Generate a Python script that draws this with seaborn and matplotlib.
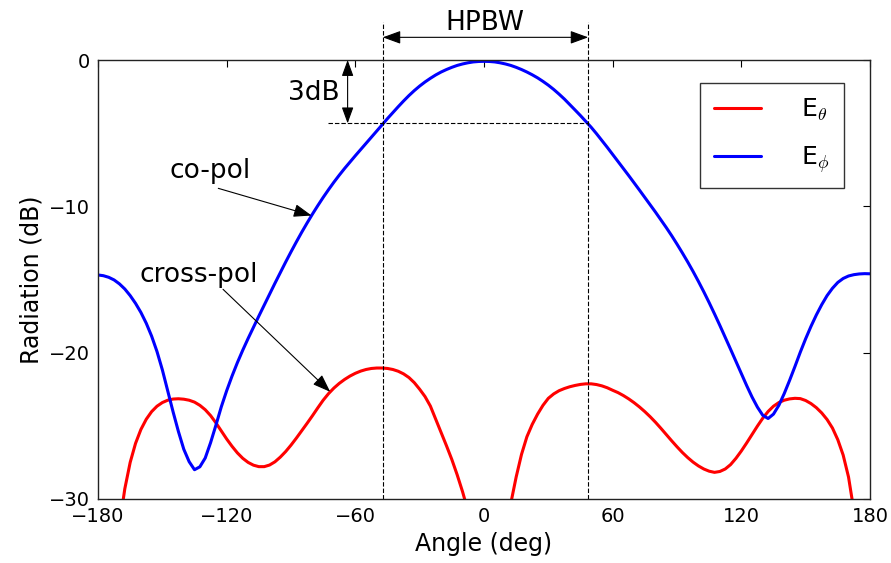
import numpy as np
import pandas as pd
import matplotlib
matplotlib.use("Agg")
import matplotlib.pyplot as plt
import seaborn as sns

# Radiation pattern samples every 2.5 degrees (level in dB)
angle_deg = [
    -180.0, -177.5, -175.0, -172.5, -170.0, -167.5, -165.0, -162.5, -160.0, -157.5,
    -155.0, -152.5, -150.0, -147.5, -145.0, -142.5, -140.0, -137.5, -135.0, -132.5,
    -130.0, -127.5, -125.0, -122.5, -120.0, -117.5, -115.0, -112.5, -110.0, -107.5,
    -105.0, -102.5, -100.0, -97.5, -95.0, -92.5, -90.0, -87.5, -85.0, -82.5,
    -80.0, -77.5, -75.0, -72.5, -70.0, -67.5, -65.0, -62.5, -60.0, -57.5,
    -55.0, -52.5, -50.0, -47.5, -45.0, -42.5, -40.0, -37.5, -35.0, -32.5,
    -30.0, -27.5, -25.0, -22.5, -20.0, -17.5, -15.0, -12.5, -10.0, -7.5,
    -5.0, -2.5, 0.0, 2.5, 5.0, 7.5, 10.0, 12.5, 15.0, 17.5,
    20.0, 22.5, 25.0, 27.5, 30.0, 32.5, 35.0, 37.5, 40.0, 42.5,
    45.0, 47.5, 50.0, 52.5, 55.0, 57.5, 60.0, 62.5, 65.0, 67.5,
    70.0, 72.5, 75.0, 77.5, 80.0, 82.5, 85.0, 87.5, 90.0, 92.5,
    95.0, 97.5, 100.0, 102.5, 105.0, 107.5, 110.0, 112.5, 115.0, 117.5,
    120.0, 122.5, 125.0, 127.5, 130.0, 132.5, 135.0, 137.5, 140.0, 142.5,
    145.0, 147.5, 150.0, 152.5, 155.0, 157.5, 160.0, 162.5, 165.0, 167.5,
    170.0, 172.5, 175.0, 177.5, 180.0,
]

e_phi_db = [
    -14.69, -14.74, -14.85, -15.03, -15.30, -15.65, -16.10, -16.63, -17.25, -17.99,
    -18.87, -19.92, -21.17, -22.59, -24.04, -25.39, -26.60, -27.45, -28.00, -27.80,
    -27.20, -26.15, -24.95, -23.70, -22.60, -21.60, -20.68, -19.83, -19.03, -18.26,
    -17.50, -16.75, -16.00, -15.26, -14.53, -13.81, -13.11, -12.43, -11.77, -11.14,
    -10.53, -9.95, -9.39, -8.86, -8.35, -7.87, -7.41, -6.97, -6.54, -6.12,
    -5.70, -5.28, -4.85, -4.42, -4.00, -3.59, -3.19, -2.80, -2.43, -2.09,
    -1.78, -1.50, -1.25, -1.02, -0.82, -0.65, -0.50, -0.37, -0.27, -0.19,
    -0.13, -0.10, -0.09, -0.10, -0.13, -0.19, -0.27, -0.37, -0.50, -0.65,
    -0.82, -1.01, -1.22, -1.46, -1.72, -2.01, -2.33, -2.67, -3.04, -3.42,
    -3.80, -4.20, -4.60, -5.04, -5.50, -5.97, -6.45, -6.93, -7.41, -7.90,
    -8.39, -8.89, -9.39, -9.89, -10.40, -10.92, -11.45, -12.00, -12.58, -13.18,
    -13.80, -14.45, -15.13, -15.84, -16.58, -17.35, -18.14, -18.95, -19.77, -20.60,
    -21.43, -22.25, -23.03, -23.72, -24.28, -24.50, -24.20, -23.60, -22.80, -21.90,
    -20.95, -19.97, -19.05, -18.20, -17.42, -16.72, -16.10, -15.60, -15.20, -14.93,
    -14.76, -14.67, -14.62, -14.60, -14.61,
]

e_theta_db = [
    -50.00, -44.00, -39.00, -35.00, -31.80, -29.30, -27.50, -26.20, -25.25, -24.55,
    -24.03, -23.66, -23.41, -23.25, -23.17, -23.15, -23.18, -23.25, -23.38, -23.60,
    -23.90, -24.30, -24.80, -25.35, -25.90, -26.40, -26.85, -27.22, -27.50, -27.69,
    -27.79, -27.79, -27.68, -27.46, -27.14, -26.76, -26.32, -25.84, -25.34, -24.83,
    -24.31, -23.77, -23.25, -22.80, -22.42, -22.10, -21.83, -21.60, -21.41, -21.26,
    -21.15, -21.08, -21.05, -21.05, -21.08, -21.15, -21.27, -21.45, -21.70, -22.05,
    -22.50, -23.00, -23.65, -24.55, -25.46, -26.36, -27.30, -28.35, -29.50, -30.80,
    -32.80, -36.50, -45.00, -41.50, -37.80, -34.80, -32.30, -30.30, -28.50, -26.95,
    -25.75, -24.90, -24.20, -23.60, -23.12, -22.82, -22.60, -22.45, -22.33, -22.24,
    -22.17, -22.13, -22.13, -22.18, -22.27, -22.40, -22.57, -22.73, -22.93, -23.16,
    -23.42, -23.71, -24.03, -24.38, -24.76, -25.17, -25.60, -26.02, -26.43, -26.82,
    -27.17, -27.48, -27.74, -27.95, -28.10, -28.18, -28.12, -27.95, -27.65, -27.22,
    -26.72, -26.17, -25.60, -25.02, -24.48, -24.02, -23.66, -23.41, -23.25, -23.16,
    -23.12, -23.14, -23.27, -23.48, -23.76, -24.12, -24.57, -25.15, -25.95, -27.00,
    -28.50, -30.80, -34.00, -38.50, -45.00,
]

series_labels = [r"E$_\theta$", r"E$_\phi$"]
series_colors = ["#ff0000", "#0000ff"]

x_ticks = [-180, -120, -60, 0, 60, 120, 180]
y_ticks = [-30, -20, -10, 0]

# Half-power beamwidth markers
hpbw_left = -47.2
hpbw_right = 48.6
hpbw_level = -4.33

sns.set_style("white")
plt.rcParams.update({
    "font.family": ["DejaVu Sans"],
    "mathtext.fontset": "cm",
    "text.color": "black",
    "axes.labelcolor": "black",
    "xtick.color": "black",
    "ytick.color": "black",
    "xtick.direction": "in",
    "ytick.direction": "in",
    "xtick.top": True,
    "ytick.right": True,
    "xtick.major.size": 5,
    "ytick.major.size": 5,
    "axes.edgecolor": "#222222",
    "axes.linewidth": 1.0,
})

df = pd.concat([
    pd.DataFrame({"Angle": angle_deg, "Radiation": e_theta_db, "comp": series_labels[0]}),
    pd.DataFrame({"Angle": angle_deg, "Radiation": e_phi_db, "comp": series_labels[1]}),
])

fig = plt.figure(figsize=(8.91, 5.63), dpi=100)
ax = fig.add_axes([0.110, 0.1137, 0.8664, 0.7797])

sns.lineplot(data=df, x="Angle", y="Radiation", hue="comp", hue_order=series_labels,
             palette=series_colors, estimator=None, sort=False, linewidth=2.2,
             legend=False, ax=ax)

ax.set_xlim(-180, 180)
ax.set_ylim(-30, 0)
ax.set_xticks(x_ticks)
ax.set_yticks(y_ticks)
ax.tick_params(labelsize=14, pad=6)
ax.set_xlabel("Angle (deg)", fontsize=17)
ax.set_ylabel("Radiation (dB)", fontsize=17)

# Beamwidth guide lines
dash_kw = dict(color="black", linewidth=0.8, dashes=(4, 1.8), clip_on=False)
for xv in (hpbw_left, hpbw_right):
    ax.plot([xv, xv], [-30, 2.6], **dash_kw)
ax.plot([-72.7, hpbw_right], [hpbw_level, hpbw_level], **dash_kw)

arrow_style = "-|>,head_length=0.55,head_width=0.2"
double_style = "<|-|>,head_length=0.55,head_width=0.2"

ax.annotate("", xy=(hpbw_right, 1.55), xytext=(hpbw_left, 1.55),
            arrowprops=dict(arrowstyle=double_style, color="black", lw=0.8,
                            shrinkA=0, shrinkB=0, mutation_scale=20),
            annotation_clip=False)
ax.text(0.5, 2.55, "HPBW", fontsize=19, ha="center", va="center", clip_on=False)

ax.annotate("", xy=(-63.6, hpbw_level), xytext=(-63.6, 0),
            arrowprops=dict(arrowstyle=double_style, color="black", lw=0.8,
                            shrinkA=0, shrinkB=0, mutation_scale=18))
ax.text(-79.3, -2.24, "3dB", fontsize=19, ha="center", va="center")

# Polarisation callouts
ax.text(-127.6, -8.09, "co-pol", fontsize=19, ha="center", va="baseline")
copol_tip = -80.4
ax.annotate("", xy=(copol_tip, np.interp(copol_tip, angle_deg, e_phi_db)),
            xytext=(-123.9, -8.77),
            arrowprops=dict(arrowstyle=arrow_style, color="black", lw=0.8,
                            shrinkA=0, shrinkB=0, mutation_scale=20))

ax.text(-133.2, -15.15, "cross-pol", fontsize=19, ha="center", va="baseline")
xpol_tip = -71.7
ax.annotate("", xy=(xpol_tip, np.interp(xpol_tip, angle_deg, e_theta_db)),
            xytext=(-121.7, -15.67),
            arrowprops=dict(arrowstyle=arrow_style, color="black", lw=0.8,
                            shrinkA=0, shrinkB=0, mutation_scale=20))

leg = ax.legend(handles=ax.lines[:2], labels=series_labels, loc="upper right",
                bbox_to_anchor=(0.9663, 0.9483), borderaxespad=0.0,
                fontsize=18, frameon=True, fancybox=False, edgecolor="black",
                handlelength=1.9, handletextpad=1.6, labelspacing=0.85,
                borderpad=0.55)
leg.get_frame().set_linewidth(1.0)

fig.savefig("out.png", dpi=100)
